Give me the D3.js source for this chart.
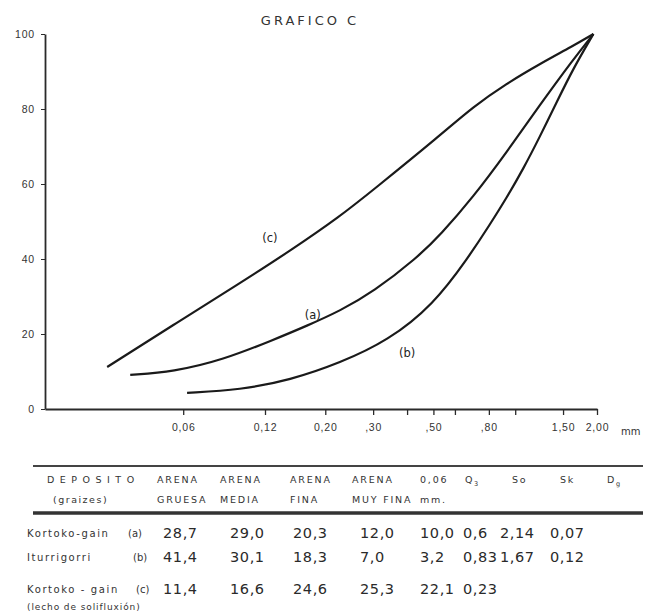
<!DOCTYPE html>
<html>
<head>
<meta charset="utf-8">
<script src="https://cdn.jsdelivr.net/npm/d3@7"></script>
<style>
  body { margin: 0; background: #fff; }
  svg { font-family: "DejaVu Sans", sans-serif; }
  .axis path, .axis line { stroke: #2a2a2a; }
  .axis text { fill: #333; font-size: 10.5px; letter-spacing: 0.8px; }
</style>
</head>
<body>
<svg class="chart"></svg>
<script>
const height = 614,
  width = 645;

// cumulative curves: [grain size mm, cumulative %]
const curveA = [[0.0383, 9.1], [0.0551, 9.9], [0.0841, 13.1], [0.1285, 18.4], [0.1714, 22.2],
  [0.227, 26.2], [0.30, 31.2], [0.435, 40.3], [0.53, 46.4], [0.70, 56.5], [0.933, 68.6],
  [1.23, 81.0], [1.63, 93.1], [1.94, 100]];
const curveB = [[0.062, 4.3], [0.0973, 5.1], [0.1486, 7.7], [0.227, 12.3], [0.34, 18.2],
  [0.50, 27.8], [0.671, 40.3], [0.807, 49.2], [0.933, 56.5], [1.07, 64.0], [1.23, 72.5],
  [1.43, 82.2], [1.63, 90.6], [1.94, 100]];
const curveC = [[0.0315, 11.2], [0.0551, 22.4], [0.0973, 33.6], [0.1486, 42.2], [0.227, 51.4],
  [0.30, 58.4], [0.53, 73.0], [0.70, 80.6], [0.93, 86.8], [1.23, 92.0], [1.63, 96.8], [1.94, 100]];

const curveLabels = [
  { name: "(c)", at: [0.125, 44.5] },
  { name: "(a)", at: [0.18, 24.0] },
  { name: "(b)", at: [0.40, 14.0] }
];

const xTicks = [0.06, 0.12, 0.2, 0.3, 0.4, 0.5, 0.6, 0.8, 1.0, 1.5, 2.0];
const xTickLabels = { 0.06: "0,06", 0.12: "0,12", 0.2: "0,20", 0.3: ",30", 0.5: ",50", 0.8: ",80", 1.5: "1,50", 2.0: "2,00" };
const yTicks = [0, 20, 40, 60, 80, 100];

// table
const headerTop = ["DEPOSITO", "ARENA", "ARENA", "ARENA", "ARENA", "0,06", "Q", "So", "Sk", "D"];
const headerBottom = ["(graizes)", "GRUESA", "MEDIA", "FINA", "MUY FINA", "mm.", "", "", "", ""];
const rowNames = ["Kortoko-gain", "Iturrigorri", "Kortoko - gain"];
const rowTags = ["(a)", "(b)", "(c)"];
const rowValues = [
  ["28,7", "29,0", "20,3", "12,0", "10,0", "0,6", "2,14", "0,07"],
  ["41,4", "30,1", "18,3", "7,0", "3,2", "0,83", "1,67", "0,12"],
  ["11,4", "16,6", "24,6", "25,3", "22,1", "0,23", "", ""]
];
const rowNote = "(lecho de solifluxión)";

const colX = [47, 157, 220, 290, 352, 420, 465, 512, 560, 607];
const valX = [163, 230, 293, 360, 420, 463, 500, 550];
const rowY = [538, 562, 594];

let chart = d3.select(".chart")
  .attr("height", height)
  .attr("width", width);

let x = d3.scaleLog()
  .domain([0.0186, 2])
  .range([45, 597]);
let y = d3.scaleLinear()
  .domain([0, 100])
  .range([409, 34]);

chart.append("text")
  .attr("x", 310).attr("y", 25)
  .attr("text-anchor", "middle")
  .attr("font-size", 13)
  .attr("letter-spacing", 3)
  .attr("fill", "#333")
  .text("GRAFICO  C");

let xAxis = chart.append("g")
  .attr("class", "axis")
  .attr("transform", `translate(0, ${y(0)})`)
  .call(d3.axisBottom(x)
    .tickValues(xTicks)
    .tickFormat(d => xTickLabels[d] || "")
    .tickSize(6)
    .tickSizeOuter(0)
    .tickPadding(9));
xAxis.select(".domain").attr("stroke-width", 1.8);
xAxis.selectAll(".tick line").attr("stroke-width", 1.3);
chart.append("text")
  .attr("x", 621).attr("y", y(0) + 26)
  .attr("font-size", 10).attr("fill", "#333")
  .text("mm");

let yAxis = chart.append("g")
  .attr("class", "axis")
  .attr("transform", `translate(${x.range()[0]}, 0)`)
  .call(d3.axisLeft(y)
    .tickValues(yTicks)
    .tickSize(4)
    .tickSizeOuter(0)
    .tickPadding(6));
yAxis.select(".domain").attr("stroke-width", 1.8);
yAxis.selectAll(".tick text").attr("letter-spacing", 0);
yAxis.selectAll(".tick text").filter(d => d === 100).attr("fill", "#bbb");

let line = d3.line()
  .x(d => x(d[0]))
  .y(d => y(d[1]))
  .curve(d3.curveBasis);

chart.append("g").selectAll("path")
  .data([curveA, curveB, curveC])
  .enter().append("path")
  .attr("d", line)
  .attr("fill", "none")
  .attr("stroke", "#1a1a1a")
  .attr("stroke-width", 2.2);

chart.append("g").selectAll("text")
  .data(curveLabels)
  .enter().append("text")
  .attr("x", d => x(d.at[0]))
  .attr("y", d => y(d.at[1]))
  .attr("text-anchor", "middle")
  .attr("font-size", 11.5)
  .attr("fill", "#222")
  .text(d => d.name);

// table
chart.append("line")
  .attr("x1", 33).attr("x2", 643).attr("y1", 466).attr("y2", 466)
  .attr("stroke", "#444").attr("stroke-width", 2);
chart.append("line")
  .attr("x1", 33).attr("x2", 643).attr("y1", 513).attr("y2", 513)
  .attr("stroke", "#333").attr("stroke-width", 3.5);

let head = chart.append("g")
  .attr("font-size", 9.5)
  .attr("fill", "#333")
  .attr("letter-spacing", 1.8);
head.selectAll(".h1")
  .data(headerTop)
  .enter().append("text")
  .attr("x", (d, i) => colX[i])
  .attr("y", 483)
  .attr("letter-spacing", (d, i) => i === 0 ? 5.5 : null)
  .text(d => d);
head.selectAll(".h2")
  .data(headerBottom)
  .enter().append("text")
  .attr("x", (d, i) => colX[i] + (i === 0 ? 6 : 0))
  .attr("y", 503)
  .attr("letter-spacing", (d, i) => i === 0 ? 1.5 : null)
  .text(d => d);
head.append("text").attr("x", colX[6] + 9).attr("y", 486).attr("font-size", 6.5).text("3");
head.append("text").attr("x", colX[9] + 9).attr("y", 486).attr("font-size", 6.5).text("g");

let rows = chart.append("g").selectAll("g")
  .data(rowValues)
  .enter().append("g");
rows.append("text")
  .attr("x", 27)
  .attr("y", (d, i) => rowY[i] - 1)
  .attr("font-size", 10)
  .attr("letter-spacing", 1.6)
  .attr("fill", "#333")
  .text((d, i) => rowNames[i]);
rows.append("text")
  .attr("x", (d, i) => [128, 133, 136][i])
  .attr("y", (d, i) => rowY[i] - 1)
  .attr("font-size", 10)
  .attr("fill", "#333")
  .text((d, i) => rowTags[i]);
rows.each(function(vals, i) {
  d3.select(this).selectAll(".v")
    .data(vals)
    .enter().append("text")
    .attr("x", (d, j) => valX[j])
    .attr("y", rowY[i])
    .attr("font-size", 14.5)
    .attr("letter-spacing", 0.6)
    .attr("fill", "#2a2a2a")
    .text(d => d);
});
chart.append("text")
  .attr("x", 27).attr("y", 610)
  .attr("font-size", 9)
  .attr("letter-spacing", 0.9)
  .attr("fill", "#333")
  .text(rowNote);
</script>
</body>
</html>
